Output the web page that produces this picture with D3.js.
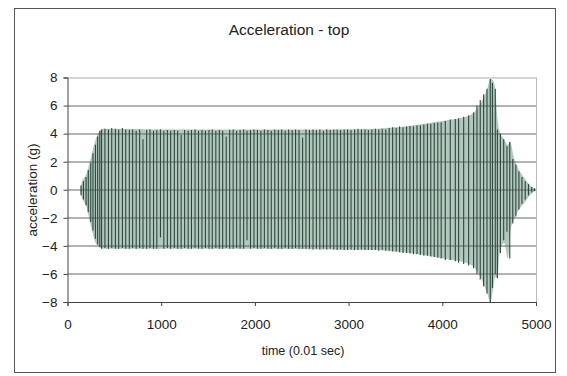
<!DOCTYPE html>
<html>
<head>
<meta charset="utf-8">
<script src="https://cdn.jsdelivr.net/npm/d3@7"></script>
<style>
  html, body { margin: 0; padding: 0; background: #fff; }
  svg { display: block; font-family: 'Liberation Sans', Arial, sans-serif; }
</style>
</head>
<body>
<svg id="chart" width="567" height="376"></svg>
<script>
// axis ticks
const xTicks = [0, 1000, 2000, 3000, 4000, 5000];
const yTicks = [-8, -6, -4, -2, 0, 2, 4, 6, 8];

// outer envelope of the signal (light fill)
const envT  = [130, 150, 200, 250, 300, 345, 380, 1000, 2000, 2800, 3300, 3500, 3700, 3900, 4100, 4250, 4350, 4420, 4480, 4512, 4540, 4565, 4590, 4610, 4660, 4700, 4725, 4760, 4820, 4880, 4940, 4990];
const envHi = [0, 0.5, 1.1, 2.3, 3.6, 4.2, 4.35, 4.3, 4.3, 4.3, 4.35, 4.45, 4.6, 4.8, 5.0, 5.2, 5.6, 6.3, 7.2, 7.9, 7.8, 7.2, 5.0, 4.2, 3.6, 3.2, 3.4, 2.4, 1.4, 0.8, 0.3, 0.05];
const envLo = [0, -0.5, -1.2, -2.6, -3.8, -4.1, -4.2, -4.2, -4.2, -4.25, -4.3, -4.4, -4.55, -4.75, -5.0, -5.2, -5.6, -6.4, -7.4, -8.0, -7.2, -6.2, -6.3, -4.6, -3.8, -4.9, -3.0, -2.2, -1.4, -0.9, -0.35, -0.05];

// individual swings (dark strokes): time, max, min
const barT = [
  145, 170, 198, 222, 248, 272, 298, 322, 345,
  364, 399, 437, 472, 511, 546, 586, 621, 660, 695,
  733, 770, 806, 845, 880, 918, 953, 992, 1028, 1066,
  1101, 1140, 1176, 1213, 1250, 1288, 1323, 1361, 1398, 1435,
  1472, 1510, 1545, 1583, 1620, 1656, 1694, 1731, 1768, 1805,
  1842, 1880, 1916, 1953, 1990, 2027, 2064, 2101, 2139, 2175,
  2212, 2250, 2286, 2323, 2360, 2398, 2434, 2471, 2509, 2545,
  2582, 2620, 2656, 2693, 2731, 2767, 2804, 2842, 2878, 2915,
  2953, 2989, 3026, 3064, 3100, 3137, 3175, 3211, 3248, 3286,
  3322, 3359, 3397, 3433, 3470,
  3508, 3544, 3581, 3619, 3655, 3692, 3730, 3766, 3803, 3841,
  3877, 3914, 3952, 3988, 4032, 4085, 4139, 4174, 4228, 4281,
  4334, 4370, 4405, 4441, 4477, 4512, 4535, 4565, 4588,
  4620, 4655, 4690, 4720, 4752, 4785, 4818, 4850, 4885, 4920, 4955, 4985
];
const barHi = [
  0.3, 0.6, 0.9, 1.4, 1.9, 2.6, 3.2, 3.8, 4.2,
  4.3, 4.35, 4.3, 4.4, 4.35, 4.3, 4.4, 4.3, 4.25, 4.3,
  4.2, 4.3, 3.6, 4.25, 4.3, 4.2, 4.25, 4.3, 4.2, 4.25,
  4.2, 4.25, 4.2, 3.9, 4.25, 4.2, 4.25, 4.3, 4.2, 4.25,
  4.2, 4.25, 4.3, 4.2, 4.25, 4.2, 3.8, 4.25, 4.3, 4.2,
  4.25, 4.3, 4.2, 4.25, 4.3, 4.25, 4.2, 4.3, 4.25, 4.2,
  4.3, 4.25, 4.3, 4.2, 4.3, 4.25, 4.3, 4.25, 3.7, 4.3,
  4.25, 4.3, 4.25, 4.3, 4.2, 4.3, 4.25, 4.3, 4.3, 4.25,
  4.3, 4.3, 4.25, 4.3, 4.35, 4.3, 4.3, 4.25, 4.3, 4.35,
  4.3, 4.35, 4.3, 4.4, 4.45,
  4.4, 4.5, 4.45, 4.5, 4.55, 4.5, 4.6, 4.6, 4.65, 4.7,
  4.7, 4.75, 4.8, 4.8, 4.9, 5.0, 5.05, 5.1, 5.2, 5.3,
  5.5, 6.0, 6.4, 6.8, 7.2, 7.9, 7.6, 7.2, 4.3,
  4.0, 3.6, 3.1, 3.4, 2.2, 1.8, 1.3, 0.9, 0.6, 0.4, 0.2, 0.1
];
const barLo = [
  -0.4, -0.7, -1.1, -1.6, -2.3, -2.9, -3.5, -3.9, -4.1,
  -4.2, -4.15, -4.2, -4.15, -4.2, -4.2, -4.15, -4.2, -4.2, -4.15,
  -4.2, -4.15, -4.2, -4.2, -4.15, -4.2, -4.2, -3.4, -4.2, -4.15,
  -4.2, -4.15, -4.2, -4.2, -4.15, -4.2, -4.2, -4.15, -4.2, -4.2,
  -4.15, -4.2, -4.2, -4.15, -4.2, -4.2, -4.15, -4.2, -4.2, -4.15,
  -4.2, -4.2, -3.6, -4.2, -4.15, -4.2, -4.2, -4.15, -4.2, -4.2,
  -4.15, -4.2, -4.2, -4.15, -4.2, -4.2, -4.15, -4.2, -4.2, -4.2,
  -4.2, -4.25, -4.2, -4.25, -4.2, -4.25, -4.2, -4.25, -4.3, -4.25,
  -4.3, -4.3, -4.25, -4.3, -4.3, -4.25, -4.3, -4.3, -4.3, -4.3,
  -4.35, -4.3, -4.35, -4.35, -4.4,
  -4.4, -4.45, -4.5, -4.5, -4.55, -4.6, -4.6, -4.65, -4.7, -4.7,
  -4.75, -4.8, -4.85, -4.9, -5.0, -5.0, -5.1, -5.2, -5.3, -5.4,
  -5.6, -6.0, -6.4, -6.9, -7.4, -8.0, -7.0, -6.0, -6.3,
  -4.5, -3.6, -3.0, -4.9, -2.4, -1.9, -1.4, -1.0, -0.7, -0.4, -0.2, -0.1
];

const svg = d3.select('#chart');
const W = 567, H = 376;
const margin = { left: 67.5, right: 31, top: 77.5, bottom: 74 };
const plotW = W - margin.left - margin.right;
const plotH = H - margin.top - margin.bottom;

// chart frame
svg.append('rect')
  .attr('x', 14.5).attr('y', 8.5)
  .attr('width', 541).attr('height', 364)
  .attr('fill', '#fff')
  .attr('stroke', '#555')
  .attr('stroke-width', 1);

svg.append('text')
  .attr('x', 289).attr('y', 35)
  .attr('text-anchor', 'middle')
  .attr('font-size', '15.5px')
  .attr('fill', '#222')
  .text('Acceleration -  top');

const g = svg.append('g').attr('transform', `translate(${margin.left},${margin.top})`);

const x = d3.scaleLinear().domain([0, 5000]).range([0, plotW]);
const y = d3.scaleLinear().domain([-8, 8]).range([plotH, 0]);

// signal envelope
const env = envT.map((t, i) => ({ t, hi: envHi[i], lo: envLo[i] }));
g.append('path')
  .datum(env)
  .attr('fill', '#b2c8bc')
  .attr('d', d3.area().curve(d3.curveMonotoneX).x(d => x(d.t)).y0(d => y(d.lo)).y1(d => y(d.hi)));

// gridlines (show through the light fill, as in the original)
g.append('g')
  .selectAll('line')
  .data(yTicks.filter(v => v > -8))
  .join('line')
  .attr('x1', 0).attr('x2', plotW)
  .attr('y1', d => Math.round(y(d)) + 0.5).attr('y2', d => Math.round(y(d)) + 0.5)
  .attr('stroke', d => d === 8 ? '#aaa' : '#666')
  .attr('stroke-width', 1);

// right edge of plot area
g.append('line')
  .attr('x1', plotW + 0.5).attr('x2', plotW + 0.5)
  .attr('y1', 0).attr('y2', plotH)
  .attr('stroke', '#bbb');

const bars = barT.map((t, i) => ({ t, hi: barHi[i], lo: barLo[i] }));
g.append('g')
  .selectAll('line')
  .data(bars)
  .join('line')
  .attr('x1', d => x(d.t)).attr('x2', d => x(d.t))
  .attr('y1', d => y(d.hi)).attr('y2', d => y(d.lo))
  .attr('stroke', '#2c483e')
  .attr('stroke-width', 1.1);

// axes
const xAxis = g.append('g')
  .attr('transform', `translate(0,${plotH})`)
  .call(d3.axisBottom(x).tickValues(xTicks).tickSize(4).tickPadding(13).tickFormat(d3.format('d')));
const yAxis = g.append('g')
  .call(d3.axisLeft(y).tickValues(yTicks).tickSize(4).tickPadding(6).tickFormat(d3.format('d')));

[xAxis, yAxis].forEach(a => {
  a.select('.domain').attr('stroke', '#444');
  a.selectAll('.tick line').attr('stroke', '#444');
  a.selectAll('text').attr('font-size', '13.5px').attr('fill', '#222')
    .attr('font-family', "'Liberation Sans', Arial, sans-serif");
});

svg.append('text')
  .attr('x', 303).attr('y', 355)
  .attr('text-anchor', 'middle')
  .attr('font-size', '12.5px')
  .attr('fill', '#222')
  .text('time (0.01 sec)');

svg.append('text')
  .attr('transform', 'translate(37,190) rotate(-90)')
  .attr('text-anchor', 'middle')
  .attr('font-size', '13.5px')
  .attr('fill', '#222')
  .text('acceleration (g)');
</script>
</body>
</html>
